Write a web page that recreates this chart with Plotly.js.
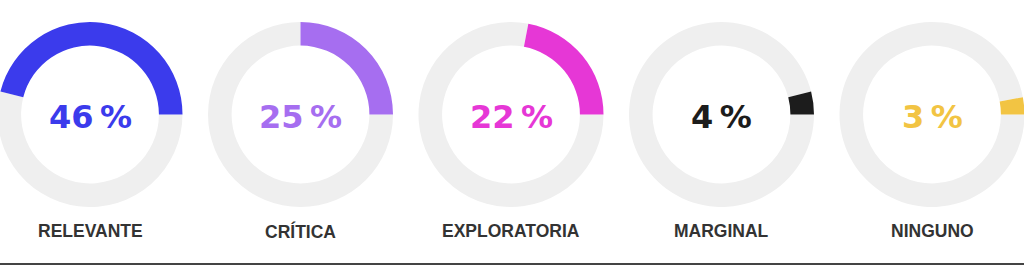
<!DOCTYPE html>
<html>
<head>
<meta charset="utf-8">
<script src="https://cdn.plot.ly/plotly-3.0.1.min.js"></script>
<style>
  html, body { margin: 0; padding: 0; background: #ffffff; overflow: hidden; }
  #wrap { position: absolute; left: -10px; top: 0; width: 1044px; height: 265px; }
</style>
</head>
<body>
<div id="wrap"></div>
<script>
// Data
const categories = ["RELEVANTE", "CRÍTICA", "EXPLORATORIA", "MARGINAL", "NINGUNO"];
const shares = [46, 25, 22, 4, 3];
const arcColors = ["#3b3bec", "#a66ef0", "#e637d6", "#1c1c1c", "#f2c443"];

// Layout constants (pixels within the 1044px-wide plot)
const W = 1044, H = 265;
const centersX = [100, 310.5, 521, 731.5, 942];
const centerY = 114.5;
const R = 92.5;
const ringColor = "#efefef";

const traces = [];
const annotations = [];
categories.forEach((cat, i) => {
  const cx = centersX[i];
  // remainder first, clockwise from 3 o'clock, so the coloured share ends at 3 o'clock
  traces.push({
    type: "pie",
    values: [100 - shares[i], shares[i]],
    labels: ["resto", cat],
    marker: { colors: [ringColor, arcColors[i]], line: { width: 0 } },
    hole: 0.745,
    sort: false,
    direction: "clockwise",
    rotation: 90,
    textinfo: "none",
    hoverinfo: "none",
    showlegend: false,
    domain: {
      x: [(cx - R) / W, (cx + R) / W],
      y: [(H - centerY - R) / H, (H - centerY + R) / H]
    }
  });
  annotations.push({
    x: cx / W, y: (H - 117) / H, xref: "paper", yref: "paper",
    xanchor: "center", yanchor: "middle", showarrow: false,
    text: "<b>" + shares[i] + "\u202F%</b>",
    font: { family: "DejaVu Sans", size: 32, color: arcColors[i] }
  });
  annotations.push({
    x: cx / W, y: (H - 231) / H, xref: "paper", yref: "paper",
    xanchor: "center", yanchor: "middle", showarrow: false,
    text: "<b>" + cat + "</b>",
    font: { family: "Liberation Sans", size: 17.5, color: "#333333" }
  });
});

const layout = {
  width: W, height: H,
  margin: { l: 0, r: 0, t: 0, b: 0 },
  paper_bgcolor: "#ffffff",
  plot_bgcolor: "#ffffff",
  annotations: annotations,
  shapes: [{
    type: "line", xref: "paper", yref: "paper",
    x0: 0, x1: 1, y0: 1 / H, y1: 1 / H,
    line: { color: "#444444", width: 2 }
  }]
};

Plotly.newPlot("wrap", traces, layout, { displayModeBar: false, staticPlot: true });
</script>
</body>
</html>
